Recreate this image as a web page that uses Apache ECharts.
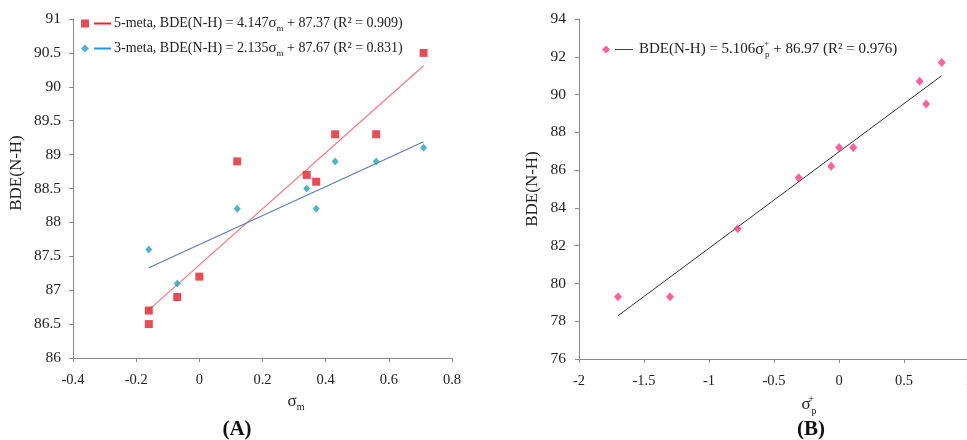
<!DOCTYPE html>
<html><head><meta charset="utf-8">
<script src="https://cdn.jsdelivr.net/npm/echarts@6/dist/echarts.min.js"></script>
<style>html,body{margin:0;padding:0;background:#fff}#c{width:967px;height:440px}</style>
</head><body><div id="c"></div>
<script>
// ---- Data ----
const metaFiveX = [-0.16, -0.16, -0.07, 0, 0.12, 0.34, 0.37, 0.43, 0.56, 0.71];
const metaFiveY = [86.7, 86.5, 86.9, 87.2, 88.9, 88.7, 88.6, 89.3, 89.3, 90.5];
const metaThreeX = [-0.16, -0.07, 0.12, 0.34, 0.37, 0.43, 0.56, 0.71];
const metaThreeY = [87.6, 87.1, 88.2, 88.5, 88.2, 88.9, 88.9, 89.1];
const fitFiveEnds = [[-0.16, 86.71], [0.71, 90.31]];
const fitThreeEnds = [[-0.16, 87.33], [0.71, 89.19]];
const paraX = [-1.7, -1.3, -0.78, -0.31, -0.06, 0, 0.11, 0.62, 0.67, 0.79];
const paraY = [79.3, 79.3, 82.9, 85.6, 86.2, 87.2, 87.2, 90.7, 89.5, 91.7];
const fitParaEnds = [[-1.7, 78.29], [0.79, 91.0]];
// axis ranges: [min, max, interval]
const axisAX = [-0.4, 0.8, 0.2];
const axisAY = [86, 91, 0.5];
const axisBX = [-2, 1, 0.5];
const axisBY = [76, 94, 2];
const nameFive = '5-meta';
const nameThree = '3-meta';
const namePara = 'para';
const legendFive = '{lr| }{t|5-meta, BDE(N-H) = 4.147}{s|σ}{sub|m}{u| + 87.37 (R² = 0.909)}';
const legendThree = '{lb| }{t|3-meta, BDE(N-H) = 2.135}{s|σ}{sub|m}{u| + 87.67 (R² = 0.831)}';
const legendPara = '{lk| }{t|BDE(N-H) = 5.106}{s|σ}{sup|+}{sub|p}{u| + 86.97 (R² = 0.976)}';

const SERIF = '"Liberation Serif","Times New Roman",serif';
const zip = (xs, ys) => xs.map((x, i) => [x, ys[i]]);

const richCommon = {
  t: {fontFamily: SERIF, fontSize: 14, color: '#222', lineHeight: 20, padding: [0, 0, 0, 3]},
  u: {fontFamily: SERIF, fontSize: 14, color: '#222', lineHeight: 20},
  s: {fontFamily: SERIF, fontSize: 15, color: '#222', lineHeight: 20},
  sub: {fontFamily: SERIF, fontSize: 9, color: '#222', lineHeight: 11, verticalAlign: 'bottom'},
  sup: {fontFamily: SERIF, fontSize: 9, color: '#222', lineHeight: 11, verticalAlign: 'top', width: 1},
  lr: {width: 17, height: 2, backgroundColor: '#e3242b'},
  lb: {width: 17, height: 2, backgroundColor: '#1e9be0'},
  lk: {width: 18, height: 1, backgroundColor: '#444'}
};

const axisCommon = {
  axisLine: {show: true, onZero: false, lineStyle: {color: '#8a8a8a', width: 1}},
  axisTick: {show: true, length: 4, lineStyle: {color: '#8a8a8a'}},
  splitLine: {show: false},
  axisLabel: {fontFamily: SERIF, fontSize: 14.5, color: '#222'}
};
const yLabel = {fontFamily: SERIF, fontSize: 15.5, color: '#222'};

const chart = echarts.init(document.getElementById('c'), null, {renderer: 'canvas'});
chart.setOption({
  animation: false,
  backgroundColor: '#fff',
  grid: [
    {left: 73, right: 515, top: 19, bottom: 82, outerBoundsMode: 'none', containLabel: false},
    {left: 579, right: -2, top: 19, bottom: 81, outerBoundsMode: 'none', containLabel: false}
  ],
  xAxis: [
    Object.assign({}, axisCommon, {
      type: 'value', gridIndex: 0, min: axisAX[0], max: axisAX[1], interval: axisAX[2],
      axisLabel: Object.assign({}, axisCommon.axisLabel, {margin: 15}),
      name: '{s|σ}{sub|m}', nameLocation: 'middle', nameGap: 22,
      nameTextStyle: {padding: [0, 0, 0, 67], rich: {
        s: {fontFamily: SERIF, fontSize: 17, color: '#222', lineHeight: 22},
        sub: {fontFamily: SERIF, fontSize: 10, color: '#222', lineHeight: 11, verticalAlign: 'bottom'}}}
    }),
    Object.assign({}, axisCommon, {
      type: 'value', gridIndex: 1, min: axisBX[0], max: axisBX[1], interval: axisBX[2],
      axisLabel: Object.assign({}, axisCommon.axisLabel, {margin: 15}),
      name: '{s|σ}{sup|+}{sub|p}', nameLocation: 'middle', nameGap: 23,
      nameTextStyle: {padding: [0, 0, 0, 70], rich: {
        s: {fontFamily: SERIF, fontSize: 17, color: '#222', lineHeight: 22},
        sup: {fontFamily: SERIF, fontSize: 10, color: '#222', lineHeight: 10, verticalAlign: 'top', width: 1},
        sub: {fontFamily: SERIF, fontSize: 10, color: '#222', lineHeight: 11, verticalAlign: 'bottom'}}}
    })
  ],
  yAxis: [
    Object.assign({}, axisCommon, {
      type: 'value', gridIndex: 0, min: axisAY[0], max: axisAY[1], interval: axisAY[2],
      axisLabel: Object.assign({}, yLabel, {margin: 12}),
      name: 'BDE(N-H)', nameLocation: 'middle', nameGap: 48,
      nameTextStyle: {fontFamily: SERIF, fontSize: 17, color: '#222', padding: [0, 0, 0, 31]}
    }),
    Object.assign({}, axisCommon, {
      type: 'value', gridIndex: 1, min: axisBY[0], max: axisBY[1], interval: axisBY[2],
      axisLabel: Object.assign({}, yLabel, {margin: 13}),
      name: 'BDE(N-H)', nameLocation: 'middle', nameGap: 38,
      nameTextStyle: {fontFamily: SERIF, fontSize: 17, color: '#222', padding: [0, 0, 0, 0]}
    })
  ],
  legend: [
    {
      data: [nameFive, nameThree], left: 81, top: 13.5, orient: 'vertical', padding: 0,
      itemWidth: 8, itemHeight: 8, itemGap: 5, selectedMode: false,
      textStyle: {fontFamily: SERIF, fontSize: 14, color: '#222', lineHeight: 20, rich: richCommon},
      formatter: n => n === nameFive ? legendFive : legendThree
    },
    {
      data: [namePara], left: 602, top: 39.5, orient: 'vertical', padding: 0,
      itemWidth: 8, itemHeight: 8, selectedMode: false,
      textStyle: {fontFamily: SERIF, fontSize: 14, color: '#222', lineHeight: 20,
        rich: Object.assign({}, richCommon, {
          t: Object.assign({}, richCommon.t, {fontSize: 15, padding: [0, 0, 0, 6]}),
          u: Object.assign({}, richCommon.u, {fontSize: 15}),
          s: Object.assign({}, richCommon.s, {fontSize: 16})})},
      formatter: () => legendPara
    }
  ],
  series: [
    {type: 'line', name: 'fit5', xAxisIndex: 0, yAxisIndex: 0, data: fitFiveEnds, symbol: 'none',
      lineStyle: {color: '#f07c7c', width: 1.2}, silent: true, z: 1},
    {type: 'line', name: 'fit3', xAxisIndex: 0, yAxisIndex: 0, data: fitThreeEnds, symbol: 'none',
      lineStyle: {color: '#5a7fb5', width: 1.2}, silent: true, z: 1},
    {type: 'line', name: 'fitP', xAxisIndex: 1, yAxisIndex: 1, data: fitParaEnds, symbol: 'none',
      lineStyle: {color: '#333', width: 1}, silent: true, z: 1},
    {type: 'scatter', name: nameFive, xAxisIndex: 0, yAxisIndex: 0, data: zip(metaFiveX, metaFiveY),
      symbol: 'rect', symbolSize: 8, itemStyle: {color: '#e0222c'}, z: 3},
    {type: 'scatter', name: nameThree, xAxisIndex: 0, yAxisIndex: 0, data: zip(metaThreeX, metaThreeY),
      symbol: 'diamond', symbolSize: [7, 8], itemStyle: {color: '#2a9fb8'}, z: 3},
    {type: 'scatter', name: namePara, xAxisIndex: 1, yAxisIndex: 1, data: zip(paraX, paraY),
      symbol: 'diamond', symbolSize: [8, 9], itemStyle: {color: '#ff3a88'}, z: 3}
  ],
  graphic: [
    {type: 'text', x: 237, y: 430, style: {text: '(A)', font: 'bold 21px "Liberation Serif"', fill: '#111', textAlign: 'center', textVerticalAlign: 'middle'}},
    {type: 'text', x: 811, y: 430, style: {text: '(B)', font: 'bold 21px "Liberation Serif"', fill: '#111', textAlign: 'center', textVerticalAlign: 'middle'}}
  ]
});
</script></body></html>
